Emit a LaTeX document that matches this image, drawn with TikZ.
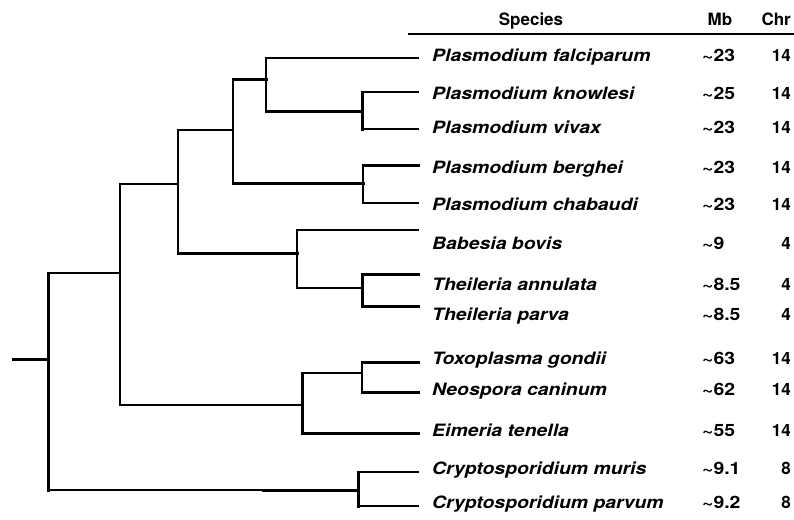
\documentclass[tikz,border=0pt]{standalone}
\usepackage{fontspec}
\usepackage{graphicx}
\setmainfont{TeX Gyre Heros}
\newcommand{\stretchtxt}[1]{\scalebox{1.14}[1]{#1}}
\begin{document}
\begin{tikzpicture}[x=1pt,y=-1pt,
  thinline/.style={line width=1.3pt, line cap=rect},
  medline/.style={line width=2pt, line cap=rect},
  thickline/.style={line width=3pt, line cap=rect},
  sp/.style={anchor=base west, inner sep=0pt, font=\fontsize{17}{17}\selectfont\bfseries\itshape},
  mb/.style={anchor=base west, inner sep=0pt, font=\fontsize{17}{17}\selectfont\bfseries},
  chr/.style={anchor=base east, inner sep=0pt, font=\fontsize{17}{17}\selectfont\bfseries},
  hd/.style={anchor=base, inner sep=0pt, font=\fontsize{17}{17}\selectfont\bfseries}]
\useasboundingbox (0,0) rectangle (794,519);
% leaf ends
\coordinate (e1) at (418,58);
\coordinate (e2) at (418,92);
\coordinate (e3) at (418,129);
\coordinate (e4) at (418,165);
\coordinate (e5) at (418,203);
\coordinate (e6) at (418,230);
\coordinate (e7) at (418,274);
\coordinate (e8) at (418,306);
\coordinate (e9) at (418,362);
\coordinate (e10) at (418,392);
\coordinate (e11) at (418,433);
\coordinate (e12) at (418,472);
\coordinate (e13) at (418,506);
% internal nodes
\coordinate (kv) at (362,111);
\coordinate (A) at (266,79);
\coordinate (bc) at (363,183);
\coordinate (B) at (233,130);
\coordinate (th) at (362,288);
\coordinate (pi) at (297,253);
\coordinate (C) at (178,184);
\coordinate (tn) at (362,373);
\coordinate (co) at (302,405);
\coordinate (D) at (120,273);
\coordinate (cr) at (358,490);
\coordinate (R) at (48,359);
\coordinate (stub) at (13,359);
\coordinate (crmid) at (263,490);
% knowlesi / vivax
\draw[thickline] (kv|-e2) -- (kv|-e3);
\draw[thinline] (kv|-e2) -- (e2);
\draw[thinline] (kv|-e3) -- (e3);
% A
\draw[thinline] (A|-e1) -- (A|-kv);
\draw[thinline] (A|-e1) -- (e1);
\draw[thickline] (A|-kv) -- (kv);
% berghei / chabaudi
\draw[thinline] (bc|-e4) -- (bc|-e5);
\draw[thickline] (bc|-e4) -- (e4);
\draw[thinline] (bc|-e5) -- (e5);
% B
\draw[thinline] (B|-A) -- (B|-bc);
\draw[thickline] (B|-A) -- (A);
\draw[thickline] (B|-bc) -- (bc);
% Theileria
\draw[thickline] (th|-e7) -- (th|-e8);
\draw[thickline] (th|-e7) -- (e7);
\draw[thickline] (th|-e8) -- (e8);
% piroplasms
\draw[thinline] (pi|-e6) -- (pi|-th);
\draw[thinline] (pi|-e6) -- (e6);
\draw[thinline] (pi|-th) -- (th);
% C
\draw[thinline] (C|-B) -- (C|-pi);
\draw[thinline] (C|-B) -- (B);
\draw[thickline] (C|-pi) -- (pi);
% Toxoplasma / Neospora
\draw[medline] (tn|-e9) -- (tn|-e10);
\draw[thickline] (tn|-e9) -- (e9);
\draw[thickline] (tn|-e10) -- (e10);
% coccidia
\draw[thickline] (co|-tn) -- (co|-e11);
\draw[thinline] (co|-tn) -- (tn);
\draw[thickline] (co|-e11) -- (e11);
% D
\draw[thinline] (D|-C) -- (D|-co);
\draw[thinline] (D|-C) -- (C);
\draw[medline] (D|-co) -- (co);
% Cryptosporidium
\draw[thickline] (cr|-e12) -- (cr|-e13);
\draw[thinline] (cr|-e12) -- (e12);
\draw[thinline] (cr|-e13) -- (e13);
% root
\draw[thickline] (R|-D) -- (R|-cr);
\draw[thinline] (R|-D) -- (D);
\draw[thinline] (R|-cr) -- (crmid);
\draw[thickline] (crmid) -- (cr);
\draw[thickline] (stub) -- (R);
% header
\coordinate (rl) at (408,34);
\coordinate (rr) at (794,34);
\draw[line width=1.5pt] (rl) -- (rr);
\node[hd] (hsp) at (531,26) {Species};
\node[hd] (hmb) at (720,26) {Mb};
\node[chr] (hchr) at (791,26) {Chr};
% rows
\foreach \i/\y/\s/\m/\c in {
  1/61/Plasmodium falciparum/23/14,
  2/99/Plasmodium knowlesi/25/14,
  3/133/Plasmodium vivax/23/14,
  4/173/Plasmodium berghei/23/14,
  5/210/Plasmodium chabaudi/23/14,
  6/249/Babesia bovis/9/4,
  7/290/Theileria annulata/8.5/4,
  8/320/Theileria parva/8.5/4,
  9/364/Toxoplasma gondii/63/14,
  10/395/Neospora caninum/62/14,
  11/436/Eimeria tenella/55/14,
  12/474/Cryptosporidium muris/9.1/8,
  13/508/Cryptosporidium parvum/9.2/8}{
  \node[sp] (s\i) at (432,\y) {\stretchtxt{\s}};
  \node[mb] (m\i) at (702,\y) {\stretchtxt{\textasciitilde\m}};
  \node[chr] (c\i) at (791,\y) {\c};
}
\end{tikzpicture}
\end{document}
